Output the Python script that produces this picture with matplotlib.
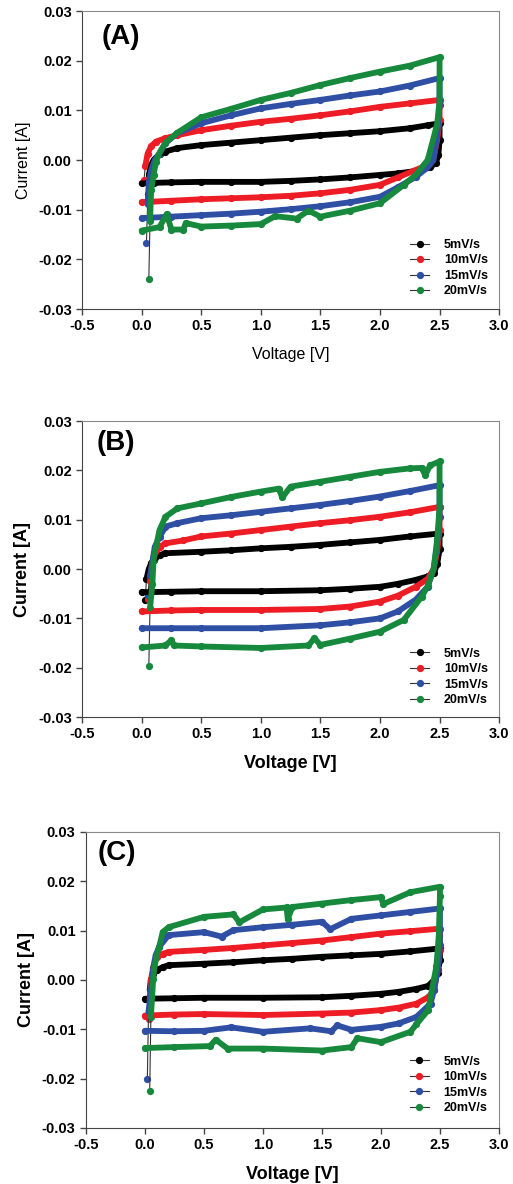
import matplotlib
matplotlib.use('Agg')
import matplotlib.pyplot as plt
import matplotlib.ticker as tick

plt.rcParams['font.family'] = ['Liberation Sans', 'DejaVu Sans']
plt.rcParams['axes.unicode_minus'] = False

labels = ['5mV/s', '10mV/s', '15mV/s', '20mV/s']
colors = ['#000000', '#ee1c24', '#2e4fa3', '#17893d']

# ---- panel A ----
a_v_5 = [0.05, 0.06, 0.08, 0.10, 0.15, 0.20, 0.30, 0.50, 0.75, 1.00, 1.25, 1.50, 1.75, 2.00, 2.25, 2.40, 2.50,
         2.50, 2.49, 2.47, 2.42, 2.30, 2.15, 2.00, 1.75, 1.50, 1.25, 1.00, 0.75, 0.50, 0.25, 0.10, 0.00]
a_i_5 = [-0.0069, -0.003, -0.001, 0.0, 0.0012, 0.0017, 0.0024, 0.003, 0.0035, 0.004, 0.0045, 0.005, 0.0054, 0.0058, 0.0064, 0.007, 0.0074,
         0.004, 0.001, -0.0005, -0.0015, -0.0022, -0.0027, -0.003, -0.0035, -0.0039, -0.0042, -0.0044, -0.0044, -0.0044, -0.0045, -0.0046, -0.0047]
a_v_10 = [0.02, 0.03, 0.05, 0.08, 0.12, 0.20, 0.30, 0.50, 0.75, 1.00, 1.25, 1.50, 1.75, 2.00, 2.25, 2.50,
          2.50, 2.48, 2.45, 2.40, 2.30, 2.15, 2.00, 1.75, 1.50, 1.25, 1.00, 0.75, 0.50, 0.25, 0.00]
a_i_10 = [-0.004, -0.0013, 0.0013, 0.0028, 0.0037, 0.0044, 0.005, 0.006, 0.0069, 0.0077, 0.0083, 0.009, 0.0098, 0.0107, 0.0114, 0.0121,
          0.008, 0.004, 0.0007, -0.001, -0.002, -0.0035, -0.005, -0.006, -0.0067, -0.0072, -0.0075, -0.0077, -0.0079, -0.0082, -0.0085]
a_v_15 = [0.04, 0.05, 0.06, 0.08, 0.11, 0.15, 0.20, 0.30, 0.50, 0.75, 1.00, 1.25, 1.50, 1.75, 2.00, 2.25, 2.50,
          2.50, 2.48, 2.45, 2.40, 2.30, 2.15, 2.00, 1.75, 1.50, 1.25, 1.00, 0.75, 0.50, 0.25, 0.00]
a_i_15 = [-0.0168, -0.0088, -0.0045, -0.002, 0.0, 0.0013, 0.0034, 0.0054, 0.0074, 0.009, 0.0104, 0.0113, 0.0121, 0.013, 0.0138, 0.015, 0.0165,
          0.011, 0.005, 0.0, -0.0015, -0.0034, -0.0055, -0.0074, -0.0085, -0.0093, -0.0099, -0.0104, -0.0108, -0.0111, -0.0114, -0.0117]
a_v_20 = [0.06, 0.07, 0.08, 0.10, 0.12, 0.15, 0.20, 0.30, 0.50, 0.75, 1.00, 1.25, 1.50, 1.75, 2.00, 2.25, 2.50,
          2.50, 2.48, 2.45, 2.40, 2.30, 2.20, 2.00, 1.75, 1.50, 1.40, 1.30, 1.12, 1.00, 0.75, 0.50, 0.37, 0.35, 0.25, 0.21, 0.15, 0.00]
a_i_20 = [-0.024, -0.0123, -0.006, -0.003, -0.0003, 0.0015, 0.0035, 0.0055, 0.0086, 0.0103, 0.0121, 0.0135, 0.0151, 0.0165, 0.0178, 0.019, 0.0207,
          0.012, 0.0073, 0.0045, 0.0, -0.003, -0.005, -0.0087, -0.0102, -0.0114, -0.0102, -0.0118, -0.0113, -0.0129, -0.0132, -0.0134, -0.0127, -0.014, -0.014, -0.0109, -0.0135, -0.0142]

# ---- panel B ----
b_v_5 = [0.03, 0.04, 0.06, 0.08, 0.10, 0.15, 0.20, 0.50, 0.75, 1.00, 1.25, 1.50, 1.75, 2.00, 2.25, 2.50,
         2.50, 2.48, 2.45, 2.40, 2.30, 2.15, 2.00, 1.75, 1.50, 1.00, 0.50, 0.25, 0.00]
b_i_5 = [-0.0063, -0.002, 0.0, 0.0012, 0.0018, 0.0028, 0.0032, 0.0035, 0.0038, 0.0042, 0.0045, 0.0049, 0.0054, 0.0059, 0.0066, 0.0072,
         0.004, 0.001, -0.0008, -0.0015, -0.0022, -0.003, -0.0036, -0.004, -0.0043, -0.0045, -0.0045, -0.0046, -0.0047]
b_v_10 = [0.05, 0.07, 0.08, 0.10, 0.15, 0.20, 0.35, 0.50, 0.75, 1.00, 1.25, 1.50, 1.75, 2.00, 2.25, 2.50,
          2.50, 2.48, 2.45, 2.40, 2.30, 2.15, 2.00, 1.75, 1.50, 1.00, 0.50, 0.25, 0.00]
b_i_10 = [-0.006, -0.0025, 0.0, 0.0025, 0.0045, 0.0052, 0.0058, 0.0066, 0.0072, 0.0079, 0.0086, 0.0093, 0.0099, 0.0106, 0.0115, 0.0126,
          0.008, 0.0035, 0.0, -0.002, -0.0036, -0.0054, -0.0066, -0.0076, -0.0081, -0.0083, -0.0083, -0.0084, -0.0086]
b_v_15 = [0.05, 0.07, 0.09, 0.11, 0.15, 0.20, 0.30, 0.50, 0.75, 1.00, 1.25, 1.50, 1.75, 2.00, 2.25, 2.50,
          2.50, 2.48, 2.45, 2.40, 2.30, 2.15, 2.00, 1.75, 1.50, 1.00, 0.50, 0.25, 0.00]
b_i_15 = [-0.0053, -0.0015, 0.0015, 0.0045, 0.0065, 0.0086, 0.0093, 0.0103, 0.0109, 0.0116, 0.0123, 0.013, 0.0138, 0.0147, 0.0158, 0.017,
          0.0105, 0.005, 0.0, -0.0036, -0.0062, -0.0086, -0.01, -0.0108, -0.0114, -0.012, -0.012, -0.012, -0.012]
b_v_20 = [0.06, 0.07, 0.09, 0.10, 0.12, 0.15, 0.20, 0.30, 0.50, 0.75, 1.00, 1.15, 1.18, 1.25, 1.50, 1.75, 2.00, 2.25, 2.35, 2.38, 2.42, 2.50,
          2.50, 2.48, 2.45, 2.40, 2.35, 2.20, 2.00, 1.75, 1.50, 1.45, 1.40, 1.00, 0.50, 0.27, 0.25, 0.20, 0.00]
b_i_20 = [-0.0197, -0.008, -0.003, 0.0018, 0.0045, 0.0079, 0.0106, 0.0123, 0.0133, 0.0146, 0.0157, 0.0163, 0.0145, 0.0167, 0.0177, 0.0187, 0.0197, 0.0204, 0.0205, 0.019, 0.021, 0.0218,
          0.0125, 0.006, 0.0, -0.0035, -0.0056, -0.0103, -0.0127, -0.0141, -0.0154, -0.014, -0.0155, -0.016, -0.0157, -0.0155, -0.0144, -0.0155, -0.0159]

# ---- panel C ----
c_v_5 = [0.03, 0.04, 0.05, 0.07, 0.10, 0.15, 0.20, 0.50, 0.75, 1.00, 1.25, 1.50, 1.75, 2.00, 2.25, 2.50,
         2.50, 2.48, 2.45, 2.40, 2.30, 2.15, 2.00, 1.75, 1.50, 1.00, 0.50, 0.25, 0.00]
c_i_5 = [-0.006, -0.002, 0.0, 0.0012, 0.002, 0.0026, 0.003, 0.0033, 0.0036, 0.004, 0.0043, 0.0047, 0.005, 0.0053, 0.0058, 0.0064,
         0.004, 0.0015, 0.0, -0.0012, -0.0018, -0.0024, -0.0028, -0.0032, -0.0035, -0.0036, -0.0036, -0.0037, -0.0038]
c_v_10 = [0.03, 0.04, 0.05, 0.07, 0.10, 0.15, 0.20, 0.50, 0.75, 1.00, 1.25, 1.50, 1.75, 2.00, 2.25, 2.50,
          2.50, 2.48, 2.45, 2.40, 2.30, 2.15, 2.00, 1.75, 1.50, 1.00, 0.50, 0.25, 0.00]
c_i_10 = [-0.008, -0.004, 0.0, 0.0025, 0.0047, 0.0053, 0.0057, 0.0061, 0.0065, 0.007, 0.0075, 0.008, 0.0087, 0.0094, 0.0099, 0.0104,
          0.006, 0.002, -0.0021, -0.0035, -0.0048, -0.0056, -0.0061, -0.0066, -0.0068, -0.0071, -0.0069, -0.007, -0.0072]
c_v_15 = [0.02, 0.03, 0.05, 0.07, 0.09, 0.12, 0.20, 0.50, 0.65, 0.75, 1.00, 1.25, 1.50, 1.57, 1.75, 2.00, 2.25, 2.50,
          2.50, 2.48, 2.45, 2.42, 2.30, 2.15, 2.00, 1.75, 1.63, 1.58, 1.40, 1.00, 0.73, 0.50, 0.25, 0.00]
c_i_15 = [-0.020, -0.0065, -0.002, 0.0025, 0.005, 0.0067, 0.0091, 0.0097, 0.0088, 0.0101, 0.0107, 0.0112, 0.0118, 0.0103, 0.0124, 0.0131, 0.0138, 0.0145,
          0.007, 0.002, -0.002, -0.0048, -0.0075, -0.0088, -0.0095, -0.0101, -0.0092, -0.0104, -0.0098, -0.0105, -0.0096, -0.0103, -0.0104, -0.0103]
c_v_20 = [0.04, 0.05, 0.07, 0.08, 0.10, 0.12, 0.15, 0.20, 0.50, 0.75, 0.80, 1.00, 1.20, 1.21, 1.25, 1.50, 1.75, 2.00, 2.02, 2.25, 2.50,
          2.50, 2.49, 2.47, 2.44, 2.40, 2.30, 2.25, 2.00, 1.80, 1.75, 1.50, 1.00, 0.70, 0.60, 0.55, 0.25, 0.00]
c_i_20 = [-0.0226, -0.0075, 0.0003, 0.0026, 0.005, 0.0067, 0.0097, 0.0107, 0.0128, 0.0133, 0.0117, 0.0143, 0.0147, 0.0124, 0.0148, 0.0155, 0.0162, 0.0168, 0.0154, 0.0178, 0.0189,
          0.017, 0.009, 0.0028, -0.001, -0.0061, -0.009, -0.0105, -0.0126, -0.0118, -0.0136, -0.0143, -0.0139, -0.0139, -0.0121, -0.0134, -0.0136, -0.0138]

panels = [
    ('(A)', [(a_v_5, a_i_5), (a_v_10, a_i_10), (a_v_15, a_i_15), (a_v_20, a_i_20)], 'normal',
     [0.160, 0.739, 0.813, 0.2517], (0.985, 0.022), (0.048, 0.913)),
    ('(B)', [(b_v_5, b_i_5), (b_v_10, b_i_10), (b_v_15, b_i_15), (b_v_20, b_i_20)], 'bold',
     [0.160, 0.3944, 0.813, 0.25], (0.985, 0.02), (0.036, 0.926)),
    ('(C)', [(c_v_5, c_i_5), (c_v_10, c_i_10), (c_v_15, c_i_15), (c_v_20, c_i_20)], 'bold',
     [0.1676, 0.0473, 0.805, 0.25], (0.985, 0.03), (0.027, 0.929)),
]

fig = plt.figure(figsize=(5.13, 11.84), dpi=100)

for tag, curves, lw_weight, pos, leg_pos, tag_pos in panels:
    ax = fig.add_axes(pos)
    for (v, i), col, lab in zip(curves, colors, labels):
        # thin connecting trace with markers (what the legend shows)
        ax.plot(v, i, '-', color='#333333', lw=0.8, marker='o', ms=4.2,
                mfc=col, mec=col, label=lab, zorder=2)
        # dense measurement band
        ax.plot(v[1:], i[1:], '-', color=col, lw=4.2, solid_capstyle='round',
                solid_joinstyle='round', zorder=3)

    ax.set_xlim(-0.5, 3.0)
    ax.set_ylim(-0.03, 0.03)
    ax.xaxis.set_major_locator(tick.MultipleLocator(0.5))
    ax.yaxis.set_major_locator(tick.MultipleLocator(0.01))
    ax.xaxis.set_major_formatter(tick.FormatStrFormatter('%.1f'))
    ax.yaxis.set_major_formatter(tick.FormatStrFormatter('%.2f'))
    ax.tick_params(direction='out', length=4, width=1, color='#444444',
                   labelsize=10.5, top=False, right=False)
    for lbl in ax.get_xticklabels() + ax.get_yticklabels():
        lbl.set_fontweight('bold')
    for s in ['left', 'bottom']:
        ax.spines[s].set_color('#444444')
    for s in ['top', 'right']:
        ax.spines[s].set_color('#8a8a8a')

    fsz = 11.5 if lw_weight == 'normal' else 13
    ax.set_xlabel('Voltage [V]', fontsize=fsz, fontweight=lw_weight, labelpad=10)
    ax.set_ylabel('Current [A]', fontsize=fsz, fontweight=lw_weight, labelpad=5)

    ax.text(tag_pos[0], tag_pos[1], tag, transform=ax.transAxes, fontsize=20,
            fontweight='bold', ha='left', va='center')

    ax.legend(loc='lower right', bbox_to_anchor=leg_pos, frameon=False,
              prop={'size': 9, 'weight': 'bold'}, handlelength=1.5,
              handletextpad=1.2, labelspacing=0.28, borderaxespad=0)

fig.savefig('out.png', dpi=100)
